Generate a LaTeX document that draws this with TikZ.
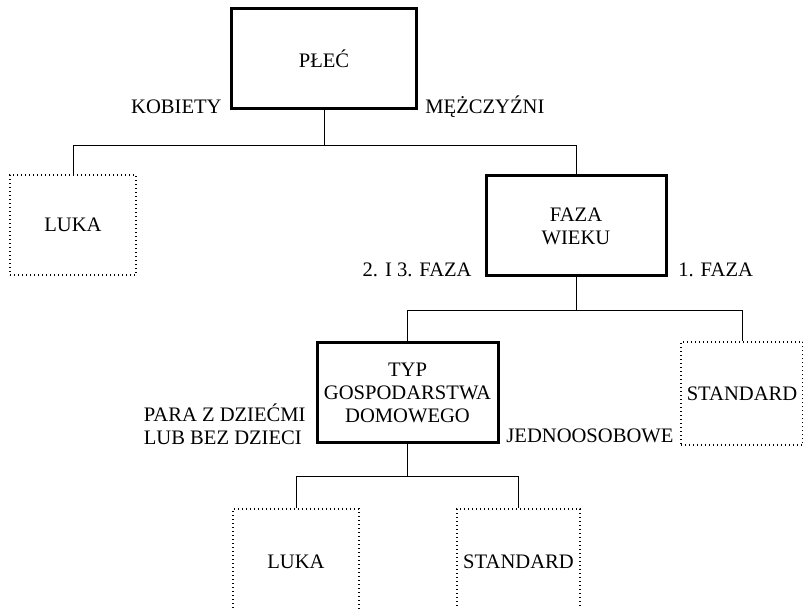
\documentclass[tikz,border=0pt]{standalone}
\usepackage{fontspec}
\setmainfont{Liberation Serif}
\usetikzlibrary{positioning}

\begin{document}
\begin{tikzpicture}[
  x=0.5pt, y=-0.5pt,
  font=\fontsize{10.3}{11.5}\selectfont,
  factor/.style={rectangle, draw=black, line width=1.5pt,
                 minimum width=#1, minimum height=50pt,
                 align=center, inner sep=2pt},
  leaf/.style={rectangle, draw=black, line width=0.6pt,
               dash pattern=on 0.6pt off 1.4pt,
               minimum width=#1, minimum height=50pt,
               align=center, inner sep=2pt},
  link/.style={line width=0.5pt},
  branch/.style={inner sep=0pt, align=left}
]
\useasboundingbox (0,0) rectangle (803,609);
% ── split nodes ──────────────────────────────────────────────────────────────
\node[factor=92.5pt] (plec) at (324,59)    {PŁEĆ};
\node[factor=90pt]   (faza) at (576,226)   {FAZA\\WIEKU};
\node[factor=90.5pt] (typ)  at (407.5,392.5) {TYP\\GOSPODARSTWA\\DOMOWEGO};

% ── end nodes ────────────────────────────────────────────────────────────────
\node[leaf=63pt]                       (luka1) at (73,225)    {LUKA};
\node[leaf=61pt, minimum height=51.5pt] (std1) at (742,393.5) {STANDARD};
\node[leaf=63pt, minimum height=53pt]  (luka2) at (296,562)   {LUKA};
\node[leaf=61.5pt, minimum height=53pt] (std2) at (518.5,562) {STANDARD};

% ── branch labels ────────────────────────────────────────────────────────────
\node[branch, anchor=east] (kob)   at (222,107) {KOBIETY};
\node[branch, anchor=west] (mez)   at (425,107) {MĘŻCZYŹNI};
\node[branch, anchor=east] (faz23) at (472,270) {2. I 3. FAZA};
\node[branch, anchor=west] (faz1)  at (678,270) {1. FAZA};
\node[branch, anchor=east] (para)  at (306,424) {PARA Z DZIEĆMI\\LUB BEZ DZIECI};
\node[branch, anchor=west] (jedno) at (506,436) {JEDNOOSOBOWE};

% ── tree connectors ──────────────────────────────────────────────────────────
\draw[link] (plec.south) -- ++(0,35) coordinate (b1);
\draw[link] (b1) -| (luka1.north);
\draw[link] (b1) -| (faza.north);

\draw[link] (faza.south) -- ++(0,33) coordinate (b2);
\draw[link] (b2) -| (typ.north);
\draw[link] (b2) -| (std1.north);

\draw[link] (typ.south) -- ++(0,32) coordinate (b3);
\draw[link] (b3) -| (luka2.north);
\draw[link] (b3) -| (std2.north);
\end{tikzpicture}
\end{document}
